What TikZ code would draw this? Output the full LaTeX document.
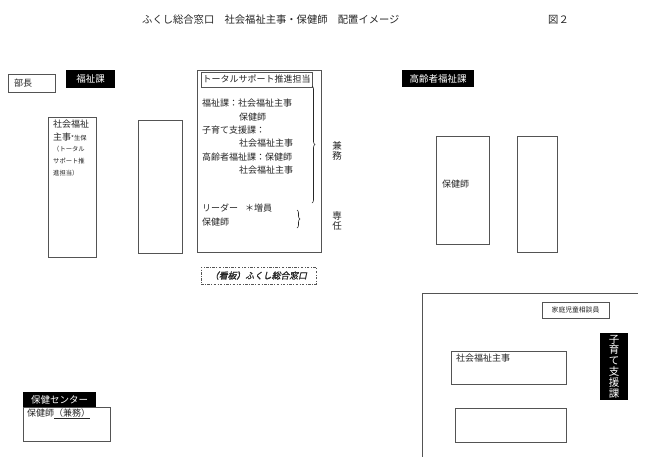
\documentclass[tikz,border=0pt]{standalone}
\usepackage{fontspec}
\setmainfont{Noto Sans CJK JP}
\newfontfamily\jpsl[FakeSlant=0.22,FakeBold=1.2]{Noto Sans CJK JP}
\usetikzlibrary{decorations.pathreplacing}
\definecolor{ln}{gray}{0.33}
\definecolor{tx}{gray}{0.15}
\begin{document}
\begin{tikzpicture}[x=1pt,y=-1pt,
  box/.style={draw=ln,line width=0.8pt,inner sep=0pt,fill=white},
  lab/.style={fill=black,text=white,inner sep=0pt,font=\fontsize{9.5}{11}\selectfont},
  txt/.style={anchor=west,inner sep=0pt,text=tx,font=\fontsize{9}{10.5}\selectfont},
  sml/.style={anchor=west,inner sep=0pt,text=tx,font=\fontsize{6.3}{7}\selectfont},
  brc/.style={draw=tx,line width=0.6pt,decorate,decoration={brace,amplitude=3pt}}]
\useasboundingbox[fill=white] (0,0) rectangle (656,456);
% title
\node[txt,font=\fontsize{10.3}{12}\selectfont] (title) at (142,20) {ふくし総合窓口　社会福祉主事・保健師　配置イメージ};
\node[txt,font=\fontsize{10.3}{12}\selectfont] (fig) at (548,20) {図２};
% left
\node[box,minimum width=47pt,minimum height=18pt] (bucho) at (31.5,83) {};
\node[txt] (buchot) at (14,83) {部長};
\node[lab,minimum width=49pt,minimum height=18pt] (fukushi) at (90.5,79) {福祉課};
\node[box,minimum width=48pt,minimum height=140pt] (col1) at (72,187) {};
\node[txt] (c1a) at (53,124) {社会福祉};
\node[txt] (c1b) at (53,137) {主事{\fontsize{6.3}{7}\selectfont *生保}};
\node[sml] (c1c) at (53,149) {（トータル};
\node[sml] (c1d) at (53,161) {サポート推};
\node[sml] (c1e) at (53,173) {進担当）};
\node[box,minimum width=44pt,minimum height=133pt] (col2) at (160,186.5) {};
% big centre box
\node[box,minimum width=124pt,minimum height=182pt] (big) at (259,161) {};
\node[box,minimum width=111pt,minimum height=15pt,text=tx,font=\fontsize{9}{10.5}\selectfont] (ts) at (256.5,79.5) {トータルサポート推進担当};
\node[txt] (l1) at (202,103) {福祉課：社会福祉主事};
\node[txt] (l2) at (239,117) {保健師};
\node[txt] (l3) at (202,130) {子育て支援課：};
\node[txt] (l4) at (239,143) {社会福祉主事};
\node[txt] (l5) at (202,157) {高齢者福祉課：保健師};
\node[txt] (l6) at (239,170) {社会福祉主事};
\node[txt] (l7) at (202,208) {リーダー};
\node[txt] (l7b) at (245,208) {＊増員};
\node[txt] (l8) at (202,222) {保健師};
\draw[brc] (312,86) -- (312,203);
\draw[brc] (297,210) -- (297,228);
\node[inner sep=0pt,text=tx,align=center,font=\fontsize{9.5}{9.8}\selectfont] (kenmu) at (337,151) {兼\\務};
\node[inner sep=0pt,text=tx,align=center,font=\fontsize{9.5}{9.8}\selectfont] (senin) at (337,221) {専\\任};
\node[box,dash pattern=on 2.5pt off 1.5pt on 0.8pt off 1.5pt,line width=0.7pt,minimum width=115pt,minimum height=17pt,text=tx,font=\jpsl\fontsize{8.8}{10}\selectfont] (kanban) at (258.5,275.5) {（看板）ふくし総合窓口};
% koureisha
\node[lab,minimum width=72pt,minimum height=17pt] (kourei) at (438,78.5) {高齢者福祉課};
\node[box,minimum width=53pt,minimum height=108pt] (k1) at (462.5,190) {};
\node[txt] (k1t) at (442,184) {保健師};
\node[box,minimum width=40pt,minimum height=116pt] (k2) at (537,194) {};
% kosodate area
\coordinate (La) at (422,458);
\coordinate (Lb) at (422,293);
\coordinate (Lc) at (638,293);
\draw[ln,line width=0.9pt] (La) -- (Lb) -- (Lc);
\node[box,minimum width=67pt,minimum height=16pt,text=tx,font=\fontsize{6.8}{8}\selectfont] (kasou) at (575.5,310) {家庭児童相談員};
\node[lab,minimum width=28pt,minimum height=67pt,align=center,font=\fontsize{10.5}{10.8}\selectfont] (kosodate) at (614,366.5) {子\\育\\て\\支\\援\\課};
\node[box,minimum width=115pt,minimum height=33pt] (shakai) at (508.5,367.5) {};
\node[txt] (shakait) at (456,358) {社会福祉主事};
\node[box,minimum width=111pt,minimum height=34pt] (empty) at (510.5,425) {};
% hoken center
\node[box,minimum width=87pt,minimum height=34pt] (hoken) at (66.5,424) {};
\node[lab,minimum width=73pt,minimum height=15.5pt] (hokenc) at (59.5,399.5) {保健センター};
\node[txt] (hokent) at (27,414) {保健師\underline{（兼務）}};
\end{tikzpicture}
\end{document}
